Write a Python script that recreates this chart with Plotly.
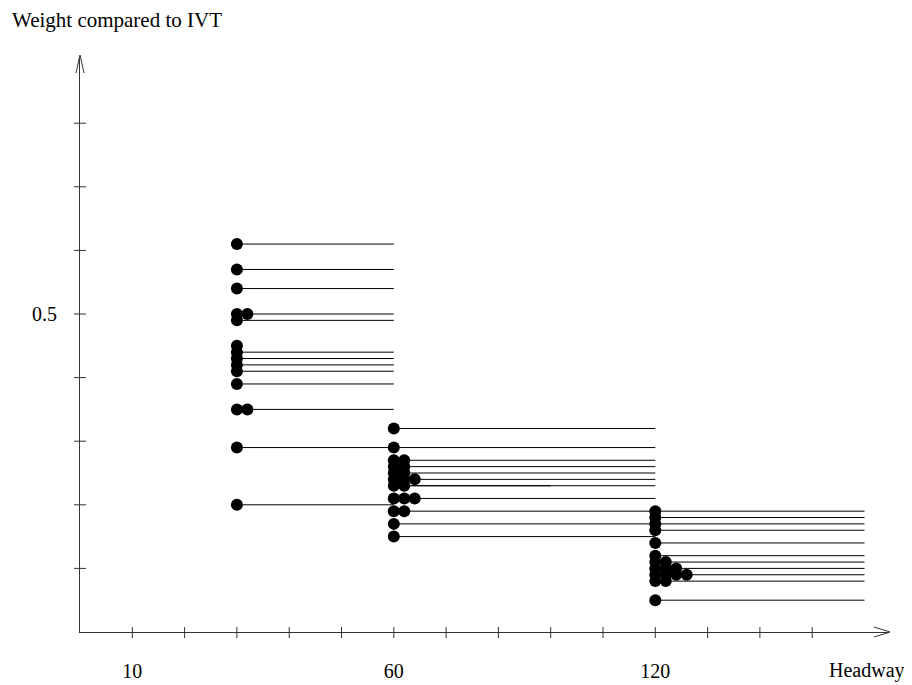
import plotly.graph_objects as go

# ---- data (x in axis-position units, tick index; y = weight compared to IVT) ----
x_tick_positions = list(range(1, 15))
x_label_positions = [1, 6, 11]
x_tick_labels = ["10", "60", "120"]
y_tick_values = [0.1, 0.2, 0.3, 0.4, 0.5, 0.6, 0.7, 0.8]
y_label_values = [0.5]
y_tick_labels = ["0.5"]

group_x = [3, 6, 11]          # headway position of each group of studies
group_end = [6, 11, 15]       # where each group's horizontal line ends
stack_step = 0.2              # offset for overlapping dots

g1_dots = [[0.61, 0.57, 0.54, 0.50, 0.49, 0.45, 0.44, 0.43, 0.42, 0.41, 0.39, 0.35, 0.29, 0.20],
           [0.50, 0.35]]
g1_lines = [0.61, 0.57, 0.54, 0.50, 0.49, 0.44, 0.43, 0.42, 0.41, 0.39, 0.35, 0.29, 0.20]

g2_dots = [[0.32, 0.29, 0.27, 0.26, 0.25, 0.24, 0.23, 0.21, 0.19, 0.17, 0.15],
           [0.27, 0.26, 0.25, 0.24, 0.23, 0.21, 0.19],
           [0.24, 0.21]]
g2_lines = [0.32, 0.29, 0.27, 0.26, 0.25, 0.24, 0.23, 0.21, 0.19, 0.17, 0.15]
g2_short_line_y = [0.23]
g2_short_line_end = 9

g3_dots = [[0.19, 0.18, 0.17, 0.16, 0.14, 0.12, 0.11, 0.10, 0.09, 0.08, 0.05],
           [0.11, 0.10, 0.09, 0.08],
           [0.10, 0.09],
           [0.09]]
g3_lines = [0.19, 0.18, 0.17, 0.16, 0.14, 0.12, 0.11, 0.10, 0.09, 0.08, 0.05]

groups = [(g1_dots, g1_lines), (g2_dots, g2_lines), (g3_dots, g3_lines)]

# ---- build segments and dots ----
seg_x, seg_y = [], []
dot_x, dot_y = [], []
for gi, (dots, lines) in enumerate(groups):
    x0, x1 = group_x[gi], group_end[gi]
    for v in lines:
        seg_x += [x0, x1, None]
        seg_y += [v, v, None]
    for ci, col in enumerate(dots):
        for v in col:
            dot_x.append(x0 + ci * stack_step)
            dot_y.append(v)
for v in g2_short_line_y:
    seg_x += [group_x[1], g2_short_line_end, None]
    seg_y += [v, v, None]

# page body has an 8px margin: size the figure so the plot lands where the reference has it
W, H = 904, 677
ml, mr, mt, mb = 72, 24, 49, 53
px_per_x = 52.3
px_per_y = 636.0
x_max = (W - ml - mr) / px_per_x
y_max = (H - mt - mb) / px_per_y

FONT = "Liberation Serif, Times New Roman, serif"
AX = "#333"

fig = go.Figure()
fig.add_trace(go.Scatter(x=seg_x, y=seg_y, mode="lines",
                         line=dict(color="black", width=1), hoverinfo="skip",
                         showlegend=False))
fig.add_trace(go.Scatter(x=dot_x, y=dot_y, mode="markers",
                         marker=dict(color="black", size=12, line=dict(width=0)),
                         showlegend=False))

shapes = []
for t in x_tick_positions:
    shapes.append(dict(type="line", xref="x", yref="paper", ysizemode="pixel", yanchor=0,
                       x0=t, x1=t, y0=-6, y1=5, line=dict(color=AX, width=1)))
for v in y_tick_values:
    shapes.append(dict(type="line", xref="paper", yref="y", xsizemode="pixel", xanchor=0,
                       x0=-6, x1=6, y0=v, y1=v, line=dict(color=AX, width=1)))
# open arrow heads at the ends of both axes
shapes.append(dict(type="path", xref="paper", yref="paper", xsizemode="pixel", ysizemode="pixel",
                   xanchor=1, yanchor=0, path="M -14,5 L 2,0 L -14,-5",
                   line=dict(color=AX, width=1)))
shapes.append(dict(type="path", xref="paper", yref="paper", xsizemode="pixel", ysizemode="pixel",
                   xanchor=0, yanchor=1, path="M -4,-16 L 0,2 L 4,-16",
                   line=dict(color=AX, width=1)))

fig.update_layout(
    width=W, height=H,
    margin=dict(l=ml, r=mr, t=mt, b=mb),
    plot_bgcolor="white", paper_bgcolor="white",
    font=dict(family=FONT, size=20, color="black"),
    shapes=shapes,
    xaxis=dict(range=[0, x_max], showgrid=False, zeroline=False, automargin=False,
               showline=True, linecolor=AX, linewidth=1,
               tickvals=x_label_positions, ticktext=x_tick_labels,
               ticks="", ticklabelstandoff=21, tickfont=dict(family=FONT, size=20)),
    yaxis=dict(range=[0, y_max], showgrid=False, zeroline=False, automargin=False,
               showline=True, linecolor=AX, linewidth=1,
               tickvals=y_label_values, ticktext=y_tick_labels,
               ticks="", ticklabelstandoff=18, tickfont=dict(family=FONT, size=20)),
    annotations=[
        dict(text="Weight compared to IVT", xref="paper", yref="paper", x=0, y=1,
             xanchor="left", yanchor="middle", xshift=-70, yshift=37,
             showarrow=False, font=dict(family=FONT, size=21)),
        dict(text="Headway", xref="paper", yref="paper", x=1, y=0,
             xanchor="center", yanchor="middle", xshift=-21, yshift=-38,
             showarrow=False, font=dict(family=FONT, size=20)),
    ],
)

fig.write_html("out.html")
